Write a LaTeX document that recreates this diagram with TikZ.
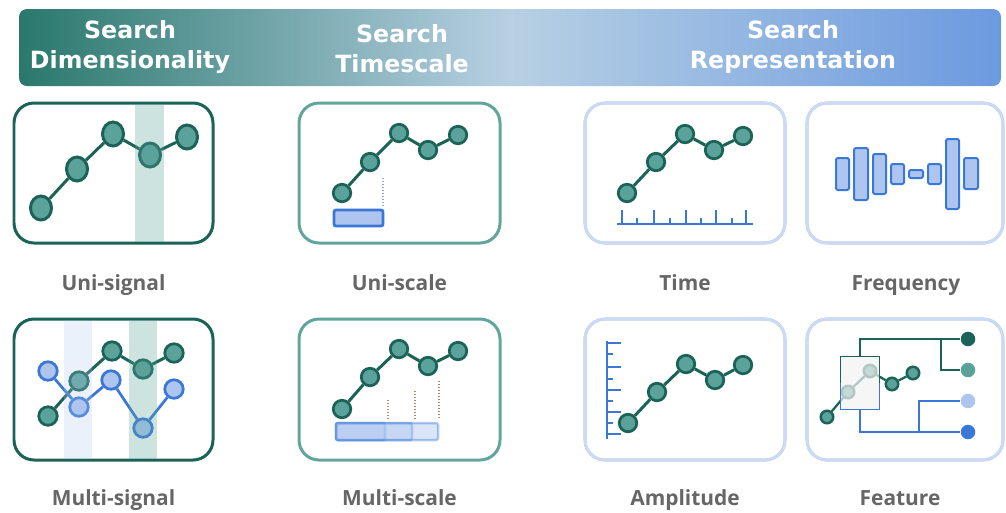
\documentclass[tikz,border=0pt]{standalone}
\usepackage{fontspec}
\setmainfont{Open Sans}
\newfontfamily\headfont{DejaVu Sans}
\usetikzlibrary{shapes.geometric}

\definecolor{tealdk}{HTML}{1B6357}
\definecolor{tealmd}{HTML}{5BA39A}
\definecolor{tealbox}{HTML}{62A59C}
\definecolor{bluedk}{HTML}{3A78D8}
\definecolor{bluelt}{HTML}{AEC6EF}
\definecolor{repblue}{HTML}{C9DBF8}
\definecolor{repgray}{HTML}{C4CCD8}
\definecolor{labelgray}{HTML}{666666}
\definecolor{dotbrown}{HTML}{B5865F}
\definecolor{dotblue}{HTML}{8FA8C8}
\definecolor{hdleft}{HTML}{2A786C}
\definecolor{hdmid}{HTML}{B7D0E3}
\definecolor{hdright}{HTML}{6C9AE0}

\tikzset{
  panel/.style={rounded corners=0.4cm, line width=0.06cm},
  dimframe/.style={panel, draw=tealdk},
  scaleframe/.style={panel, draw=tealbox},
  repframe/.style={panel, draw=repblue, line width=0.05cm,
    preaction={draw=repgray, line width=0.062cm}},
  tbig/.style={ellipse, draw=tealdk, fill=tealmd, line width=0.06cm,
    minimum width=0.42cm, minimum height=0.48cm, inner sep=0pt},
  tpt/.style={circle, draw=tealdk, fill=tealmd, line width=0.055cm,
    minimum size=0.35cm, inner sep=0pt},
  tmid/.style={tpt, minimum size=0.37cm},
  bpt/.style={circle, draw=bluedk, fill=bluelt, line width=0.055cm,
    minimum size=0.37cm, inner sep=0pt},
  tsmall/.style={circle, draw=tealdk, fill=tealmd, line width=0.05cm,
    minimum size=0.25cm, inner sep=0pt},
  leaf/.style={circle, fill=#1, minimum size=0.29cm, inner sep=0pt},
  tline/.style={draw=tealdk, line width=0.06cm},
  bline/.style={draw=bluedk, line width=0.055cm},
  bar/.style={draw=bluedk, fill=bluelt, line width=0.04cm, rounded corners=0.04cm},
  tick/.style={draw=bluedk, line width=0.03cm},
  cat/.style={font=\fontsize{11.9}{14}\selectfont\bfseries, text=labelgray,
    anchor=base},
  head/.style={font=\headfont\fontsize{13.5}{17}\selectfont\bfseries,
    text=white, align=center},
}

\begin{document}
\begin{tikzpicture}[x=0.02cm, y=-0.02cm]
  \useasboundingbox (0,0) rectangle (1006,512);

  % header bar
  \shade[left color=hdleft, right color=hdright, middle color=hdmid,
    rounded corners=0.16cm] (19,9) rectangle (1001,86);
  \node[head] (hdim) at (130,47) {Search\\Dimensionality};
  \node[head] (htime) at (402,49) {Search\\Timescale};
  \node[head] (hrep) at (793,47) {Search\\Representation};

  % uni-signal
  \draw[dimframe] (14,103) rectangle (213,243);
  \foreach \i/\x/\y in {1/41/208, 2/77/169, 3/113/134, 4/150/155, 5/187/137}
    \node[tbig] (us\i) at (\x,\y) {};
  \draw[tline] (us1) -- (us2) -- (us3) -- (us4) -- (us5);
  \fill[tealmd, fill opacity=0.3] (135,104.5) rectangle (164,241.5);

  % uni-scale
  \draw[scaleframe] (299,103) rectangle (500,243);
  \foreach \i/\x/\y in {1/342/193, 2/370/162, 3/399/133, 4/428/150, 5/458/135}
    \node[tpt] (uc\i) at (\x,\y) {};
  \draw[tline] (uc1) -- (uc2) -- (uc3) -- (uc4) -- (uc5);
  \draw[dotblue, densely dotted, line width=0.025cm] (383,178) -- (383,206);
  \draw[bar, line width=0.055cm] (334,210) rectangle (383,226);

  % time
  \draw[repframe] (585,103) rectangle (785,243);
  \foreach \i/\x/\y in {1/627/193, 2/656/162, 3/685/134, 4/714/150, 5/743/136}
    \node[tpt] (ti\i) at (\x,\y) {};
  \draw[tline] (ti1) -- (ti2) -- (ti3) -- (ti4) -- (ti5);
  \draw[tick] (617,224) -- (753,224);
  \foreach \x/\t in {622/210, 637/218, 654/210, 670/218, 686/210,
                     701/218, 716/210, 732/218, 746/210}
    \draw[tick] (\x,224) -- (\x,\t);

  % frequency
  \draw[repframe] (807,103) rectangle (1003,243);
  \foreach \a/\b/\c/\d in {836/158/849/190, 854/148/868/200, 873/154/886/194,
      891/164/904/184, 909/170/923/178, 928/164/941/184, 946/139/959/209,
      964/158/978/189}
    \draw[bar] (\a,\b) rectangle (\c,\d);

  % multi-signal
  \draw[dimframe] (14,319) rectangle (213,460);
  \foreach \i/\x/\y in {1/48/416, 2/79/381, 3/112/351, 4/143/369, 5/174/353}
    \node[tmid] (mt\i) at (\x,\y) {};
  \draw[tline] (mt1) -- (mt2) -- (mt3) -- (mt4) -- (mt5);
  \foreach \i/\x/\y in {1/48/371, 2/79/407, 3/111/380, 4/143/428, 5/174/389}
    \node[bpt] (mb\i) at (\x,\y) {};
  \draw[bline] (mb1) -- (mb2) -- (mb3) -- (mb4) -- (mb5);
  \fill[bluelt, fill opacity=0.25] (64,320.5) rectangle (92,458.5);
  \fill[tealmd, fill opacity=0.3] (129,320.5) rectangle (157,458.5);

  % multi-scale
  \draw[scaleframe] (299,319) rectangle (500,460);
  \foreach \i/\x/\y in {1/342/409, 2/370/377, 3/399/349, 4/428/366, 5/458/351}
    \node[tpt] (mc\i) at (\x,\y) {};
  \draw[tline] (mc1) -- (mc2) -- (mc3) -- (mc4) -- (mc5);
  \foreach \x/\t in {388/400, 415/391, 439/381}
    \draw[dotbrown, densely dotted, line width=0.025cm] (\x,\t) -- (\x,419);
  \foreach \r in {385, 412, 438}
    \draw[bar, fill opacity=0.45, draw opacity=0.4, line width=0.05cm]
      (336,423) rectangle (\r,440);

  % amplitude
  \draw[repframe] (585,319) rectangle (785,460);
  \foreach \i/\x/\y in {1/628/423, 2/657/392, 3/686/364, 4/715/380, 5/743/365}
    \node[tpt] (am\i) at (\x,\y) {};
  \draw[tline] (am1) -- (am2) -- (am3) -- (am4) -- (am5);
  \draw[tick] (607,341) -- (607,439);
  \foreach \y/\t in {343/621, 354/613, 367/621, 379/613, 390/621,
                     401/613, 412/621, 423/613, 434/621}
    \draw[tick] (607,\y) -- (\t,\y);

  % feature
  \draw[repframe] (807,319) rectangle (1003,460);
  \node[leaf=tealdk] (fd1) at (968,339) {};
  \node[leaf=tealmd] (fd2) at (968,370) {};
  \node[leaf=bluelt] (fd3) at (968,401) {};
  \node[leaf=bluedk] (fd4) at (968,432) {};
  \foreach \i/\x/\y in {1/827/417, 2/848/392, 3/870/371, 4/892/384, 5/913/373}
    \node[tsmall] (fp\i) at (\x,\y) {};
  \draw[tline, line width=0.045cm] (fp1) -- (fp2) -- (fp3) -- (fp4) -- (fp5);
  \node[fill=white!95!black, fill opacity=0.7, minimum width=0.76cm,
    minimum height=1.04cm, inner sep=0pt] (fbox) at (860,383) {};
  \draw[tealdk, line width=0.03cm] (fbox.west) |- (fbox.north east) -- (fbox.east);
  \draw[bluedk, line width=0.03cm] (fbox.west) |- (fbox.south east) -- (fbox.east);
  \coordinate (tj) at (941,339);
  \coordinate (bj) at (919,432);
  \draw[tealdk, line width=0.03cm] (fbox.north) |- (fd1);
  \draw[tealdk, line width=0.03cm] (tj) |- (fd2);
  \draw[bluedk, line width=0.03cm] (fbox.south) |- (fd4);
  \draw[bluedk, line width=0.03cm] (bj) |- (fd3);

  % labels
  \node[cat] (luni) at (113.5,290) {Uni-signal};
  \node[cat] (lscale) at (399.5,290) {Uni-scale};
  \node[cat] (ltime) at (685,290) {Time};
  \node[cat] (lfreq) at (906,290) {Frequency};
  \node[cat] (lmulti) at (113.5,505) {Multi-signal};
  \node[cat] (lmscale) at (399.5,505) {Multi-scale};
  \node[cat] (lamp) at (685,505) {Amplitude};
  \node[cat] (lfeat) at (900,505) {Feature};
\end{tikzpicture}
\end{document}
